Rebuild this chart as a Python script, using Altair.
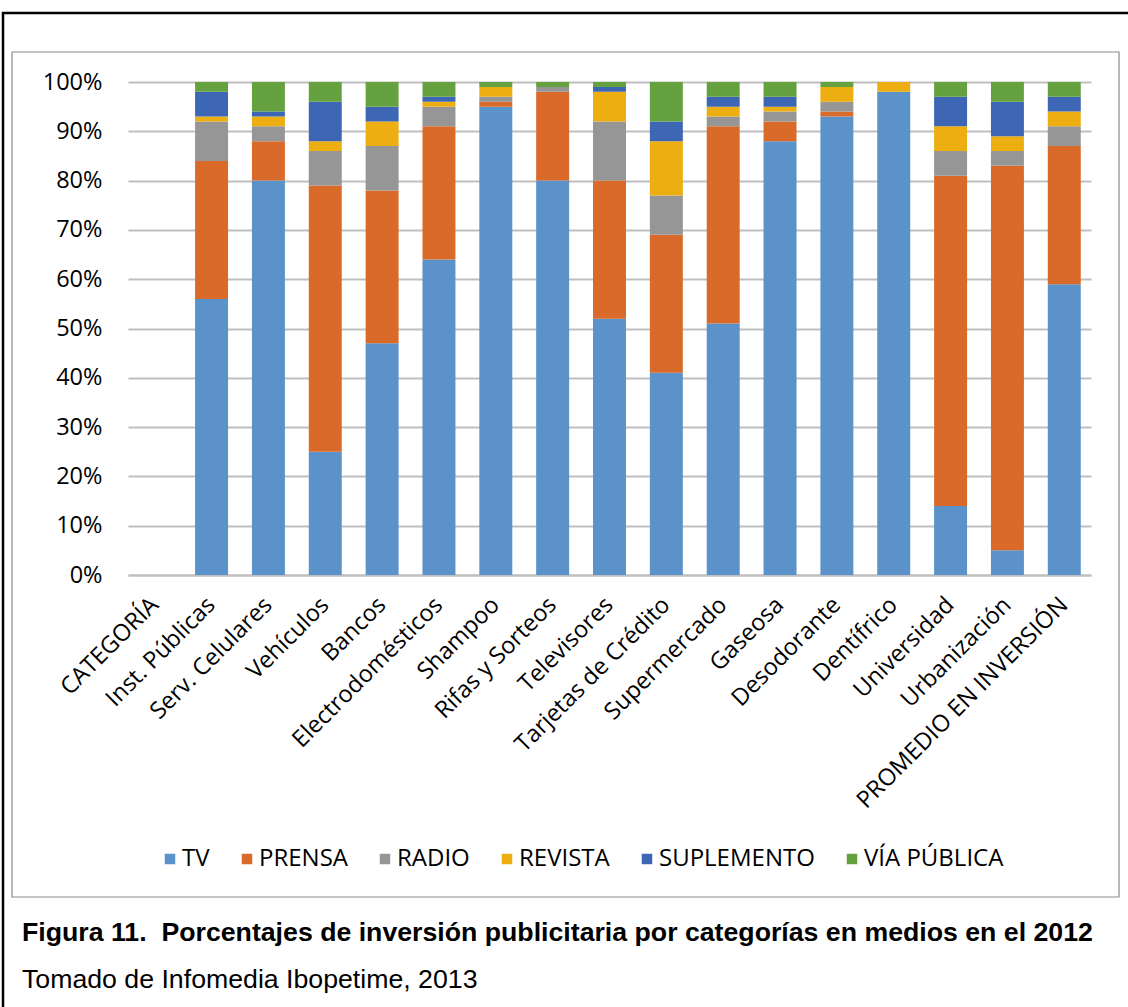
import altair as alt
import pandas as pd

categories = ["CATEGORÍA", "Inst. Públicas", "Serv. Celulares", "Vehículos", "Bancos",
              "Electrodomésticos", "Shampoo", "Rifas y Sorteos", "Televisores",
              "Tarjetas de Crédito", "Supermercado", "Gaseosa", "Desodorante",
              "Dentífrico", "Universidad", "Urbanización", "PROMEDIO EN INVERSIÓN"]
series = ["TV", "PRENSA", "RADIO", "REVISTA", "SUPLEMENTO", "VÍA PÚBLICA"]
colors = ["#5A92C9", "#DA6A2A", "#969696", "#EDAE12", "#3D66B4", "#66A140"]

tv         = [0, 56, 80, 25, 47, 64, 95, 80, 52, 41, 51, 88, 93, 98, 14, 5, 59]
prensa     = [0, 28, 8, 54, 31, 27, 1, 18, 28, 28, 40, 4, 1, 0, 67, 78, 28]
radio      = [0, 8, 3, 7, 9, 4, 1, 1, 12, 8, 2, 2, 2, 0, 5, 3, 4]
revista    = [0, 1, 2, 2, 5, 1, 2, 0, 6, 11, 2, 1, 3, 2, 5, 3, 3]
suplemento = [0, 5, 1, 8, 3, 1, 0, 0, 1, 4, 2, 2, 0, 0, 6, 7, 3]
via        = [0, 2, 6, 4, 5, 3, 1, 1, 1, 8, 3, 3, 1, 0, 3, 4, 3]

values = [tv, prensa, radio, revista, suplemento, via]
rows = []
for si, (s, vals) in enumerate(zip(series, values)):
    for c, v in zip(categories, vals):
        rows.append({"cat": c, "serie": s, "ord": si, "val": v / 100})
df = pd.DataFrame(rows)

FONT = "Open Sans"
W, H = 963, 493

bars = alt.Chart(df).mark_bar().encode(
    x=alt.X("cat:N", sort=categories, title=None,
            scale=alt.Scale(paddingInner=0.42, paddingOuter=0.18),
            axis=alt.Axis(labelAngle=-45, labelFontSize=23.5, labelFont=FONT,
                          labelColor="#000000", ticks=False, grid=False,
                          domainColor="#BFBFBF", domainWidth=2, labelPadding=26,
                          labelAlign="right", labelBaseline="middle",
                          labelLimit=0)),
    y=alt.Y("val:Q", stack="zero", title=None,
            scale=alt.Scale(domain=[0, 1], nice=False),
            axis=alt.Axis(format=".0%", values=[i / 10 for i in range(11)],
                          labelFontSize=23.5, labelFont=FONT, labelColor="#000000",
                          ticks=False, domain=False, gridColor="#BFBFBF",
                          gridWidth=2, labelPadding=26)),
    color=alt.Color("serie:N", sort=series,
                    scale=alt.Scale(domain=series, range=colors),
                    legend=alt.Legend(title=None, orient="none", direction="horizontal",
                                      legendX=30, legendY=765, symbolType="square",
                                      symbolSize=110, symbolStrokeWidth=0,
                                      labelFontSize=24, labelFont=FONT,
                                      labelColor="#000000", columnPadding=25,
                                      labelOffset=0)),
    order=alt.Order("ord:Q", sort="ascending"),
)

outer = alt.Chart(pd.DataFrame({"a": [0]})).mark_rect(
    fill=None, stroke="#000000", strokeWidth=2.5
).encode(x=alt.value(-125), x2=alt.value(1012), y=alt.value(-69), y2=alt.value(940))

inner = alt.Chart(pd.DataFrame({"a": [0]})).mark_rect(
    fill=None, stroke="#8C8C8C", strokeWidth=1.2
).encode(x=alt.value(-116), x2=alt.value(991), y=alt.value(-30), y2=alt.value(815))

cap1 = alt.Chart(pd.DataFrame({"t": ["Figura 11.\u00a0 Porcentajes de inversión publicitaria por categorías en medios en el 2012"]})).mark_text(
    align="left", baseline="middle", font="Liberation Sans", fontWeight="bold",
    fontSize=26.7, color="#000000"
).encode(text="t:N", x=alt.value(-106), y=alt.value(851))

cap2 = alt.Chart(pd.DataFrame({"t": ["Tomado de Infomedia Ibopetime, 2013"]})).mark_text(
    align="left", baseline="middle", font="Liberation Sans",
    fontSize=26.7, color="#000000"
).encode(text="t:N", x=alt.value(-106), y=alt.value(898))

chart = alt.layer(outer, inner, bars, cap1, cap2).properties(
    width=W, height=H,
    autosize=alt.AutoSizeParams(type="none"),
    padding={"left": 128, "top": 82, "right": 37, "bottom": 432},
    background="#FFFFFF",
).configure_view(stroke=None)

chart.save("out.html", embed_options={"renderer": "svg", "actions": False})
